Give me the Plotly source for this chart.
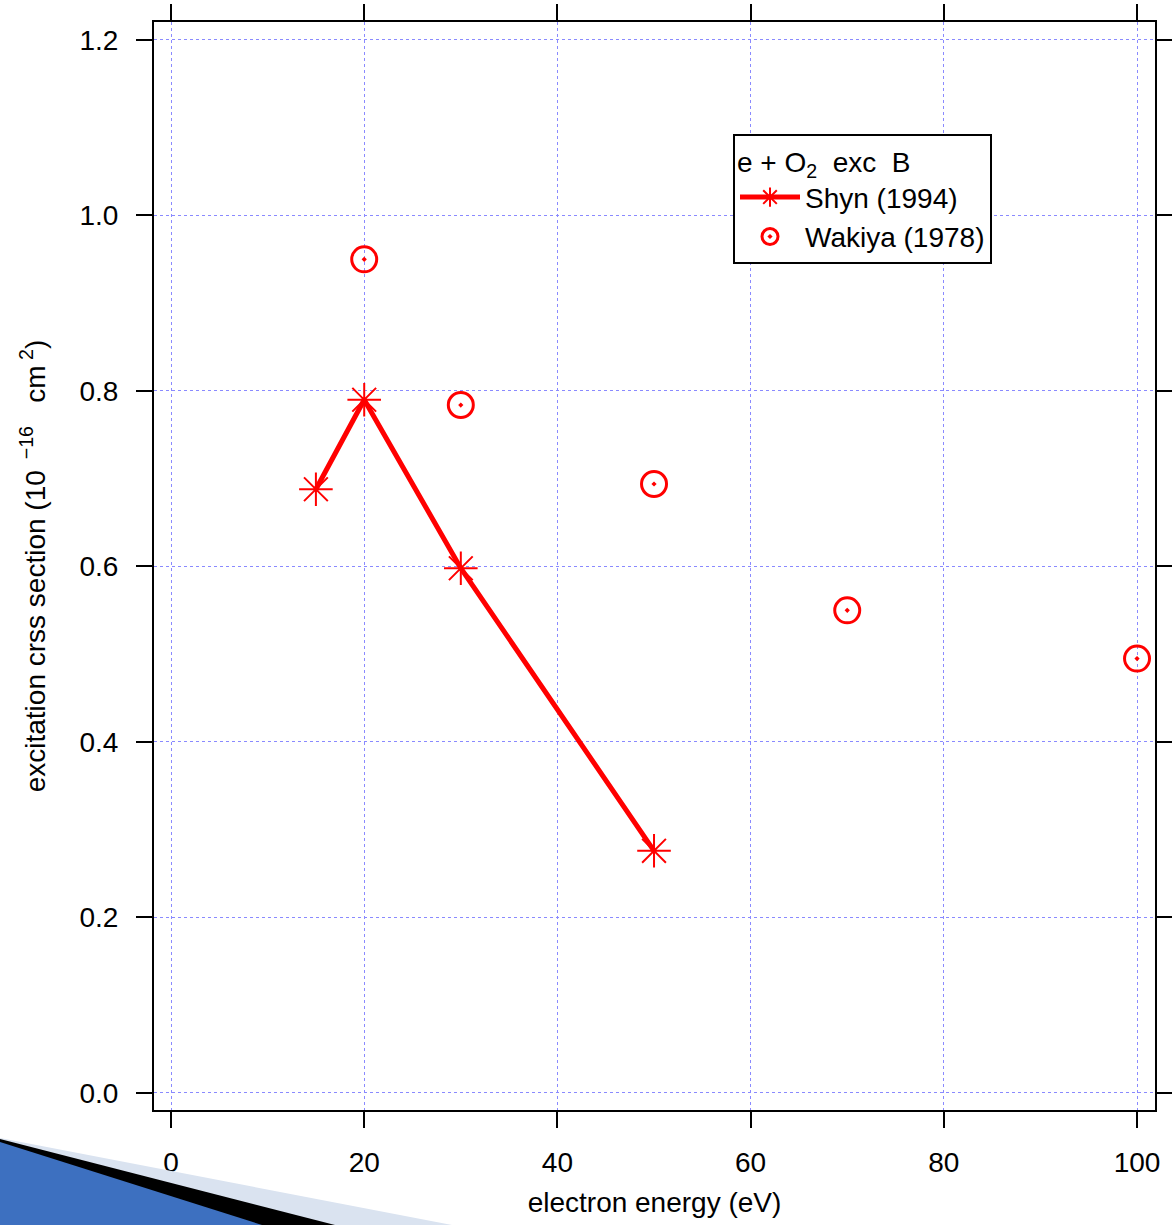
import plotly.graph_objects as go

shyn_x = [15, 20, 30, 50]
shyn_y = [0.688, 0.790, 0.598, 0.276]
wakiya_x = [20, 30, 50, 70, 100]
wakiya_y = [0.950, 0.784, 0.694, 0.550, 0.495]

W, H = 1172, 1225
ML, MR, MT, MB = 154, 17, 22, 115
PW, PH = W - ML - MR, H - MT - MB

def px(x):
    return (x - ML) / PW

def py(y):
    return (H - MB - y) / PH

FONT = "Liberation Sans"

fig = go.Figure()
fig.add_trace(go.Scatter(
    x=shyn_x, y=shyn_y, mode="lines+markers", name="Shyn (1994)",
    line=dict(color="#ff0000", width=5),
    marker=dict(symbol="asterisk-open", size=28, color="#ff0000",
                line=dict(color="#ff0000", width=2)),
))
fig.add_trace(go.Scatter(
    x=wakiya_x, y=wakiya_y, mode="markers", name="Wakiya (1978)",
    marker=dict(symbol="circle-open-dot", size=25, color="#ff0000",
                line=dict(color="#ff0000", width=3)),
))

axis_common = dict(
    showline=True, linecolor="black", linewidth=2, mirror="ticks",
    ticks="outside", ticklen=16, tickwidth=2, tickcolor="black",
    showgrid=True, gridcolor="#8a8aff", griddash="dot", gridwidth=1,
    zeroline=False, automargin=False,
    tickfont=dict(family=FONT, size=28, color="black"),
)

fig.update_layout(
    width=W, height=H,
    margin=dict(l=ML, r=MR, t=MT, b=MB),
    paper_bgcolor="white", plot_bgcolor="white",
    font=dict(family=FONT, color="black"),
    xaxis=dict(range=[-1.76, 101.86], tickmode="linear", tick0=0, dtick=20,
               ticklabelstandoff=10,
               title=dict(text="electron energy (eV)", font=dict(family=FONT, size=28), standoff=16),
               **axis_common),
    yaxis=dict(range=[-0.0194, 1.2205], tickmode="linear", tick0=0, dtick=0.2,
               tickformat=".1f", ticklabelstandoff=12,
               title=dict(text="excitation crss section (10<sup>  −16</sup>   cm<sup> 2</sup>)",
                          font=dict(family=FONT, size=28), standoff=26),
               **axis_common),
    legend=dict(
        x=px(733), y=py(134), xanchor="left", yanchor="top",
        bgcolor="white", bordercolor="black", borderwidth=2,
        font=dict(family=FONT, size=28, color="black"),
        title=dict(text="e + O<sub>2</sub>  exc  B", font=dict(family=FONT, size=28)),
        itemwidth=60, tracegroupgap=0,
    ),
    showlegend=True,
)

# decorative swoosh in bottom-left corner
shapes = [
    ([(0, 1138), (452, 1225), (0, 1225)], "#dae3f0"),
    ([(0, 1139), (335, 1225), (0, 1225)], "#000000"),
    ([(0, 1142), (262, 1225), (0, 1225)], "#3d70c0"),
]
for pts, col in shapes:
    path = "M " + " L ".join(f"{px(a):.5f},{py(b):.5f}" for a, b in pts) + " Z"
    fig.add_shape(type="path", path=path, xref="paper", yref="paper",
                  fillcolor=col, line=dict(width=0), layer="above")

fig.write_html("out.html")
